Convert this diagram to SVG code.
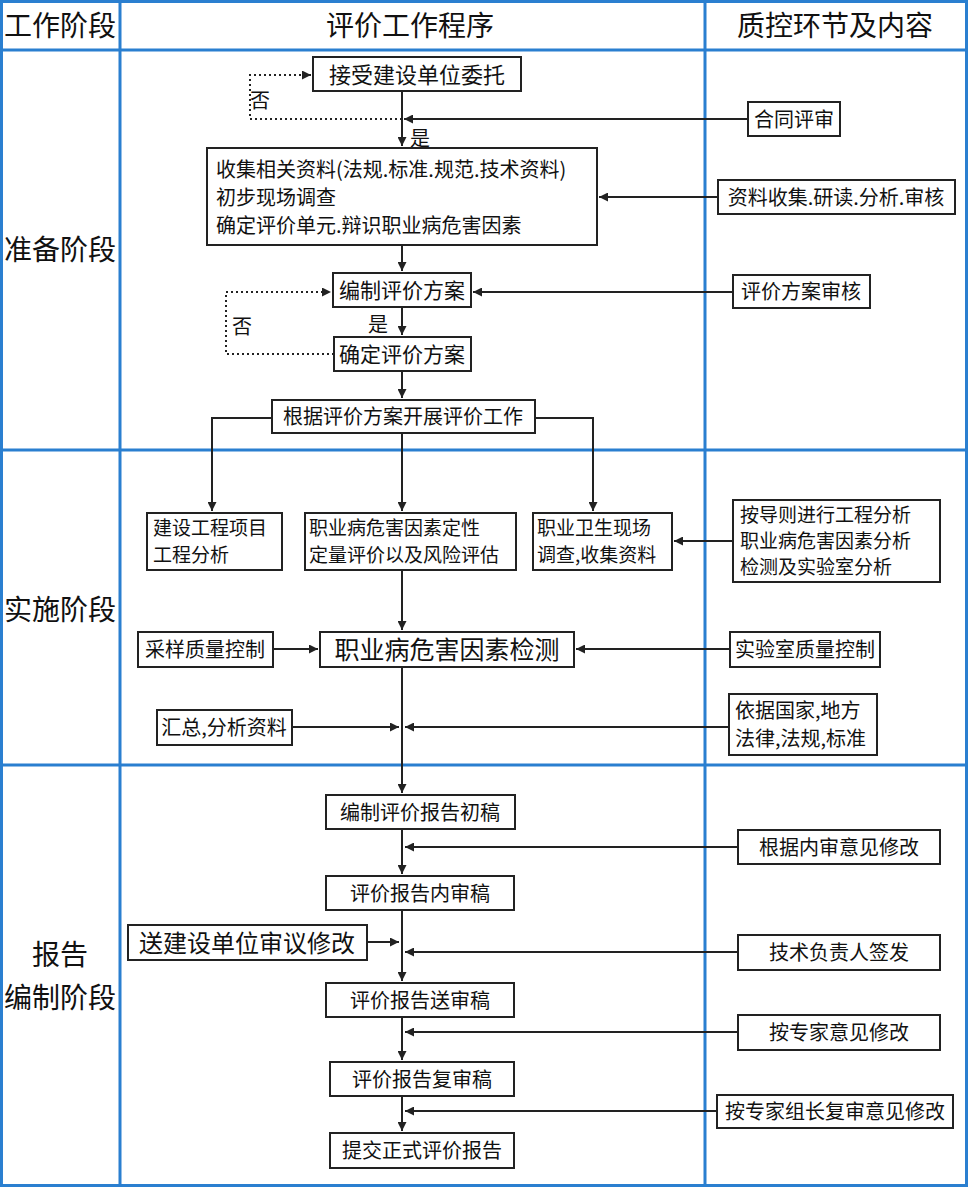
<svg xmlns="http://www.w3.org/2000/svg" width="968" height="1187" viewBox="0 0 968 1187">
<defs>
<marker id="a" viewBox="0 0 10 10" refX="10" refY="5" markerWidth="9" markerHeight="9" orient="auto" markerUnits="userSpaceOnUse"><path d="M0,0L10,5L0,10z" fill="#222"/></marker>
</defs>
<style>
.b{fill:#fff;stroke:#222;stroke-width:2}
.t{font-family:"Noto Sans CJK SC",sans-serif;fill:#111;font-size:20px}
.s{font-size:19px}
.c{text-anchor:middle}
.h{font-size:28px}
.l{fill:none;stroke:#222;stroke-width:2}
.d{fill:none;stroke:#222;stroke-width:2;stroke-dasharray:2,3}
.g{stroke:#2a7fd0;stroke-width:3;fill:none}
</style>
<rect width="968" height="1187" fill="#fff"/>
<g id="grid">
<rect class="g" x="1.5" y="1.5" width="965" height="1184"/>
<line class="g" x1="0" y1="50" x2="968" y2="50"/>
<line class="g" x1="0" y1="450" x2="968" y2="450"/>
<line class="g" x1="0" y1="765" x2="968" y2="765"/>
<line class="g" x1="120" y1="0" x2="120" y2="1187"/>
<line class="g" x1="705" y1="0" x2="705" y2="1187"/>
</g>
<g id="headers">
<text class="t c h" x="60" y="36">工作阶段</text>
<text class="t c h" x="410" y="36">评价工作程序</text>
<text class="t c h" x="835" y="36">质控环节及内容</text>
<text class="t c h" x="60" y="260">准备阶段</text>
<text class="t c h" x="60" y="620">实施阶段</text>
<text class="t c h" x="60" y="965">报告</text>
<text class="t c h" x="60" y="1008">编制阶段</text>
</g>
<g id="connectors">
<path class="l" d="M402,91V146" marker-end="url(#a)"/>
<path class="d" d="M402,119H250V75H311" marker-end="url(#a)"/>
<path class="l" d="M748,119H404" marker-end="url(#a)"/>
<path class="l" d="M718,197H599" marker-end="url(#a)"/>
<path class="l" d="M402,245V271" marker-end="url(#a)"/>
<path class="l" d="M733,292H473" marker-end="url(#a)"/>
<path class="l" d="M402,307V335" marker-end="url(#a)"/>
<path class="d" d="M334,354H226V292H331" marker-end="url(#a)"/>
<path class="l" d="M402,371V398" marker-end="url(#a)"/>
<path class="l" d="M272,418H212V511" marker-end="url(#a)"/>
<path class="l" d="M535,418H593V511" marker-end="url(#a)"/>
<path class="l" d="M402,433V511" marker-end="url(#a)"/>
<path class="l" d="M402,570V630" marker-end="url(#a)"/>
<path class="l" d="M733,541H674" marker-end="url(#a)"/>
<path class="l" d="M273,649H318" marker-end="url(#a)"/>
<path class="l" d="M730,649H576" marker-end="url(#a)"/>
<path class="l" d="M402,667V793" marker-end="url(#a)"/>
<path class="l" d="M292,727H399" marker-end="url(#a)"/>
<path class="l" d="M729,727H405" marker-end="url(#a)"/>
<path class="l" d="M738,847H405" marker-end="url(#a)"/>
<path class="l" d="M402,829V874" marker-end="url(#a)"/>
<path class="l" d="M367,942H399" marker-end="url(#a)"/>
<path class="l" d="M738,952H405" marker-end="url(#a)"/>
<path class="l" d="M402,910V981" marker-end="url(#a)"/>
<path class="l" d="M738,1032H405" marker-end="url(#a)"/>
<path class="l" d="M402,1017V1060" marker-end="url(#a)"/>
<path class="l" d="M717,1111H405" marker-end="url(#a)"/>
<path class="l" d="M402,1096V1131" marker-end="url(#a)"/>
<text class="t" x="250" y="108">否</text>
<text class="t" x="410" y="146">是</text>
<text class="t" x="368" y="332">是</text>
<text class="t" x="232" y="334">否</text>
</g>
<g id="n1"><rect class="b" x="313" y="57" width="208" height="34"/><text class="t c" x="417" y="83" style="font-size:22px">接受建设单位委托</text></g>
<g id="n2"><rect class="b" x="207" y="148" width="390" height="97"/><text class="t" x="216" y="177">收集相关资料(法规.标准.规范.技术资料)</text><text class="t" x="216" y="205">初步现场调查</text><text class="t" x="216" y="233">确定评价单元.辩识职业病危害因素</text></g>
<g id="n3"><rect class="b" x="333" y="273" width="138" height="34"/><text class="t c" x="402" y="298" style="font-size:21px">编制评价方案</text></g>
<g id="n4"><rect class="b" x="334" y="337" width="137" height="34"/><text class="t c" x="402" y="362" style="font-size:21px">确定评价方案</text></g>
<g id="n5"><rect class="b" x="272" y="400" width="263" height="33"/><text class="t c" x="403" y="424">根据评价方案开展评价工作</text></g>
<g id="n6"><rect class="b" x="147" y="513" width="135" height="57"/><text class="t s" x="153" y="535">建设工程项目</text><text class="t s" x="153" y="562">工程分析</text></g>
<g id="n7"><rect class="b" x="305" y="513" width="211" height="57"/><text class="t s" x="309" y="535">职业病危害因素定性</text><text class="t s" x="309" y="562">定量评价以及风险评估</text></g>
<g id="n8"><rect class="b" x="533" y="513" width="139" height="57"/><text class="t s" x="537" y="535">职业卫生现场</text><text class="t s" x="537" y="562">调查,收集资料</text></g>
<g id="n9"><rect class="b" x="138" y="632" width="135" height="35"/><text class="t c" x="205" y="657">采样质量控制</text></g>
<g id="n10"><rect class="b" x="320" y="632" width="254" height="35"/><text class="t c" x="447" y="659" style="font-size:25px">职业病危害因素检测</text></g>
<g id="n11"><rect class="b" x="157" y="710" width="135" height="35"/><text class="t c" x="224" y="735">汇总,分析资料</text></g>
<g id="n12"><rect class="b" x="326" y="795" width="189" height="34"/><text class="t c" x="420" y="820">编制评价报告初稿</text></g>
<g id="n13"><rect class="b" x="326" y="876" width="188" height="34"/><text class="t c" x="420" y="901">评价报告内审稿</text></g>
<g id="n14"><rect class="b" x="128" y="925" width="239" height="35"/><text class="t c" x="247" y="952" style="font-size:24px">送建设单位审议修改</text></g>
<g id="n15"><rect class="b" x="326" y="983" width="188" height="34"/><text class="t c" x="420" y="1008">评价报告送审稿</text></g>
<g id="n16"><rect class="b" x="330" y="1062" width="184" height="34"/><text class="t c" x="422" y="1087">评价报告复审稿</text></g>
<g id="n17"><rect class="b" x="330" y="1133" width="184" height="35"/><text class="t c" x="422" y="1158">提交正式评价报告</text></g>
<g id="q1"><rect class="b" x="748" y="102" width="92" height="34"/><text class="t c" x="794" y="127">合同评审</text></g>
<g id="q2"><rect class="b" x="718" y="180" width="237" height="34"/><text class="t c" x="836" y="205">资料收集.研读.分析.审核</text></g>
<g id="q3"><rect class="b" x="733" y="275" width="137" height="33"/><text class="t c" x="801" y="299">评价方案审核</text></g>
<g id="q4"><rect class="b" x="733" y="500" width="207" height="82"/><text class="t s" x="740" y="522">按导则进行工程分析</text><text class="t s" x="740" y="548">职业病危害因素分析</text><text class="t s" x="740" y="574">检测及实验室分析</text></g>
<g id="q5"><rect class="b" x="730" y="632" width="150" height="35"/><text class="t c" x="805" y="657">实验室质量控制</text></g>
<g id="q6"><rect class="b" x="729" y="694" width="148" height="61"/><text class="t" x="735" y="718">依据国家,地方</text><text class="t" x="735" y="746">法律,法规,标准</text></g>
<g id="q7"><rect class="b" x="738" y="830" width="202" height="34"/><text class="t c" x="839" y="855">根据内审意见修改</text></g>
<g id="q8"><rect class="b" x="738" y="935" width="202" height="35"/><text class="t c" x="839" y="960">技术负责人签发</text></g>
<g id="q9"><rect class="b" x="738" y="1015" width="202" height="35"/><text class="t c" x="839" y="1040">按专家意见修改</text></g>
<g id="q10"><rect class="b" x="717" y="1095" width="236" height="33"/><text class="t c" x="835" y="1119">按专家组长复审意见修改</text></g>
</svg>
